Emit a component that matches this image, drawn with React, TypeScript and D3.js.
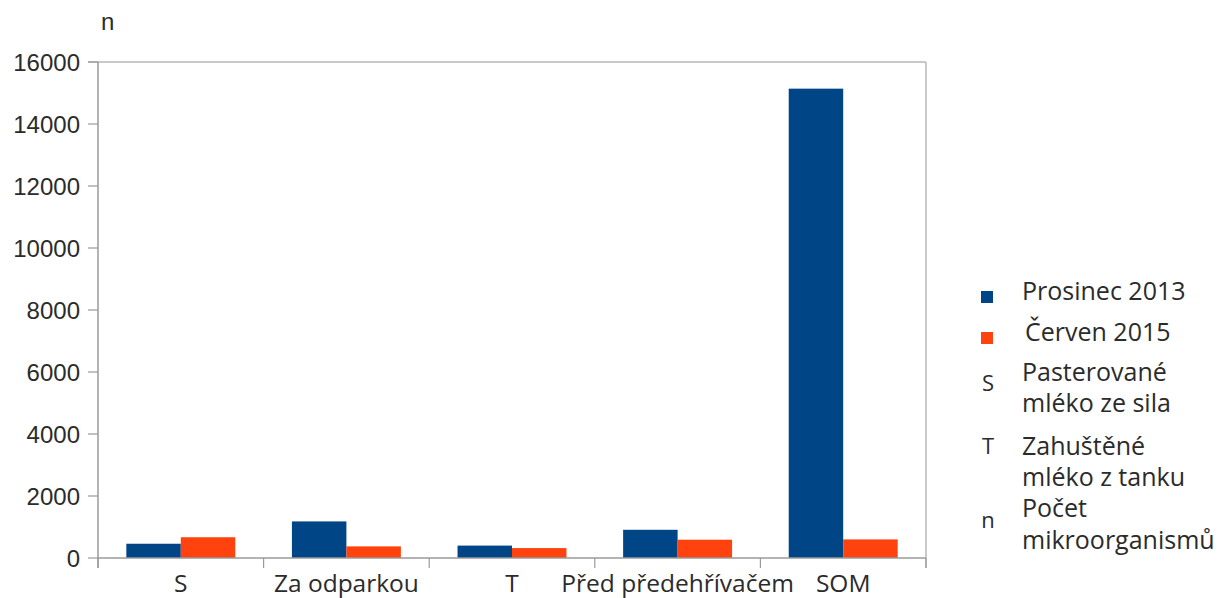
import React from "react";
import * as d3 from "d3";

// Sampling points along the line
const categories = ["S", "Za odparkou", "T", "Před předehřívačem", "SOM"];

// Microorganism counts per sampling point
const series = ["Prosinec 2013", "Červen 2015"];
const prosinec2013 = [460, 1180, 400, 910, 15140];
const cerven2015 = [670, 375, 320, 590, 600];
const seriesValues = [prosinec2013, cerven2015];
const seriesColors = ["#004586", "#ff420e"];

const yTicks = [0, 2000, 4000, 6000, 8000, 10000, 12000, 14000, 16000];
const yMax = 16000;
const yLabel = "n";

// Abbreviations explained under the legend
const notes = [
  { key: "S", lines: ["Pasterované", "mléko ze sila"] },
  { key: "T", lines: ["Zahuštěné", "mléko z tanku"] },
  { key: "n", lines: ["Počet", "mikroorganismů"] },
];

const W = 1225;
const H = 598;
const plot = { left: 98, right: 926, top: 62, bottom: 558 };

const textFont = "'Open Sans', 'DejaVu Sans', sans-serif";
const numFont = "'Liberation Sans', Arial, sans-serif";
const textColor = "#2b2b2b";
const axisColor = "#9a9a9a";
const frameColor = "#b9b9b9";

export default function App() {
  const x = d3.scaleBand<string>().domain(categories).range([plot.left, plot.right]).padding(0);
  const inner = d3
    .scaleBand<string>()
    .domain(series)
    .range([0, x.bandwidth()])
    .paddingInner(0)
    .paddingOuter(0.52);
  const y = d3.scaleLinear().domain([0, yMax]).range([plot.bottom, plot.top]);

  const boundaries = categories.map((c) => x(c) as number).concat([plot.right]);

  // legend rows (baselines)
  const seriesRowsY = [300, 341];
  const noteRowsY = [
    [381, 412],
    [455, 486],
    [517, 549],
  ];
  const noteKeyShift = [10, -1, 11];

  return (
    <svg
      width={W}
      height={H}
      viewBox={`0 0 ${W} ${H}`}
      style={{ position: "fixed", left: 0, top: 0, background: "#fff" }}
    >
      <rect x={0} y={0} width={W} height={H} fill="#fff" />

      {/* y axis title */}
      <text x={101} y={30} fontFamily={numFont} fontSize={24} fill={textColor}>
        {yLabel}
      </text>

      {/* frame: top and right edges */}
      <line x1={88} x2={plot.right} y1={y(yMax)} y2={y(yMax)} stroke={frameColor} strokeWidth={1.5} />
      <line x1={plot.right} x2={plot.right} y1={plot.top} y2={plot.bottom + 10} stroke={frameColor} strokeWidth={1.5} />

      {/* bars */}
      {categories.map((c, i) => (
        <g key={c} transform={`translate(${x(c)},0)`}>
          {series.map((s, j) => {
            const v = seriesValues[j][i];
            return (
              <rect
                key={s}
                x={inner(s)}
                y={y(v)}
                width={inner.bandwidth()}
                height={y(0) - y(v)}
                fill={seriesColors[j]}
              />
            );
          })}
        </g>
      ))}

      {/* y axis */}
      <line x1={plot.left} x2={plot.left} y1={plot.top} y2={plot.bottom + 10} stroke={axisColor} strokeWidth={1.5} />
      {yTicks.map((t) => (
        <g key={t}>
          <line x1={88} x2={plot.left} y1={y(t)} y2={y(t)} stroke={axisColor} strokeWidth={1.2} />
          <text
            x={80}
            y={y(t)}
            dy="0.36em"
            textAnchor="end"
            fontFamily={numFont}
            fontSize={24}
            fill={textColor}
          >
            {t}
          </text>
        </g>
      ))}

      {/* x axis */}
      <line x1={plot.left} x2={plot.right} y1={y(0)} y2={y(0)} stroke={axisColor} strokeWidth={1.5} />
      {boundaries.map((bx, i) => (
        <line key={i} x1={bx} x2={bx} y1={plot.bottom} y2={plot.bottom + 10} stroke={axisColor} strokeWidth={1.2} />
      ))}
      {categories.map((c) => (
        <text
          key={c}
          x={(x(c) as number) + x.bandwidth() / 2}
          y={592}
          textAnchor="middle"
          fontFamily={textFont}
          fontSize={24.5}
          fill={textColor}
        >
          {c}
        </text>
      ))}

      {/* legend */}
      {series.map((s, j) => (
        <g key={s}>
          <rect x={981} y={seriesRowsY[j] - 9} width={12} height={12} fill={seriesColors[j]} />
          <text x={1022 + j * 3} y={seriesRowsY[j]} fontFamily={textFont} fontSize={25} fill={textColor}>
            {s}
          </text>
        </g>
      ))}
      {notes.map((n, k) => (
        <g key={n.key}>
          <text
            x={988}
            y={noteRowsY[k][0] + noteKeyShift[k]}
            textAnchor="middle"
            fontFamily={textFont}
            fontSize={22}
            fill={textColor}
          >
            {n.key}
          </text>
          {n.lines.map((line, l) => (
            <text
              key={line}
              x={1022}
              y={noteRowsY[k][l]}
              fontFamily={textFont}
              fontSize={25}
              fill={textColor}
            >
              {line}
            </text>
          ))}
        </g>
      ))}
    </svg>
  );
}
